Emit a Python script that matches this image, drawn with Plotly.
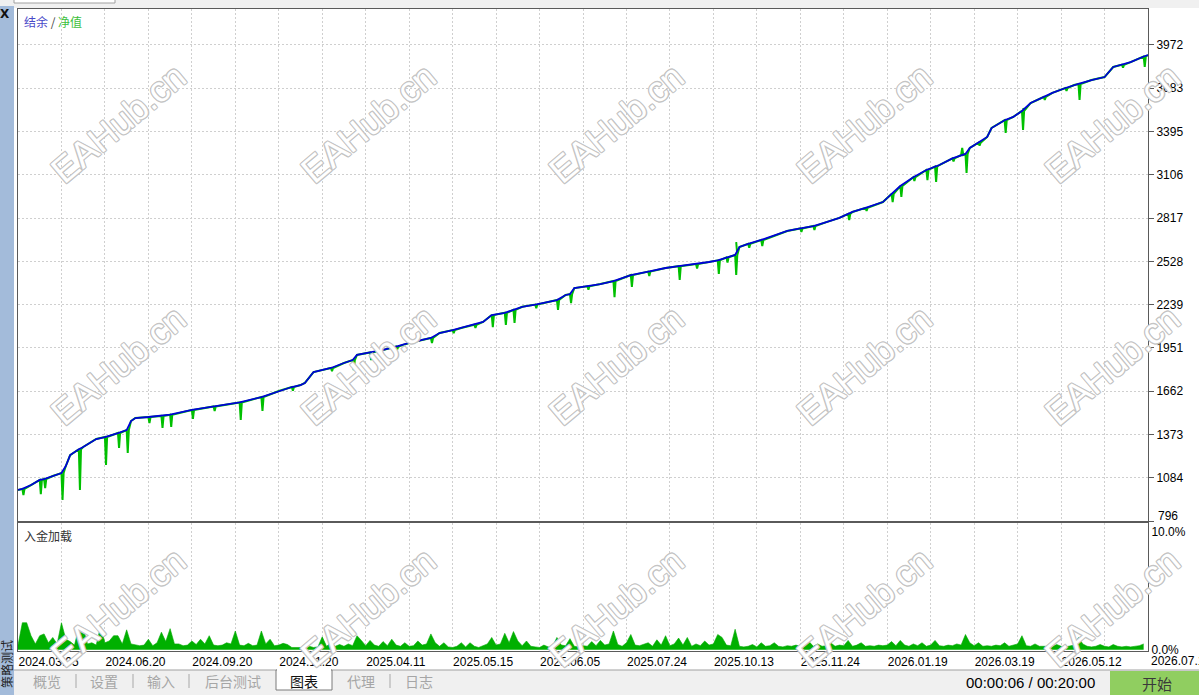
import plotly.graph_objects as go

# ---------------- data ----------------
dates = ["2024.03.05", "2024.06.20", "2024.09.20", "2024.11.20", "2025.04.11",
         "2025.05.15", "2025.06.05", "2025.07.24", "2025.10.13", "2025.11.24",
         "2026.01.19", "2026.03.19", "2026.05.12", "2026.07.1"]

y_ticks = [796, 1084, 1373, 1662, 1951, 2239, 2528, 2817, 3106, 3395, 3683, 3972]

# balance (trade index, value)
bal_idx = [0, 1, 3, 5, 6, 8, 10, 11, 12, 14, 15, 18, 20, 23, 25, 26, 27, 30, 33, 35,
           40, 45, 51, 56, 60, 63, 65, 66, 68, 72, 75, 77, 78, 81, 84, 87, 90, 95, 97, 100,
           102, 105, 107, 109, 112, 114, 116, 119, 122, 124, 126, 127, 128, 131, 134, 137, 141, 145, 149, 152,
           156, 159, 161, 163, 165, 166, 168, 171, 174, 177, 180, 183, 186, 189, 191, 192, 195, 199, 201, 203,
           206, 209, 211, 212, 215, 217, 218, 219, 221, 223, 224, 227, 229, 231, 233, 236, 238, 241, 243, 244,
           247, 250, 252, 254, 256, 259, 260]
bal_val = [1003, 1010, 1036, 1070, 1076, 1096, 1116, 1163, 1236, 1275, 1290, 1343, 1356, 1383, 1403, 1463, 1483, 1490, 1497, 1505,
           1537, 1560, 1587, 1623, 1663, 1690, 1703, 1717, 1790, 1817, 1850, 1870, 1904, 1920, 1937, 1960, 1984, 2017, 2050, 2070,
           2084, 2105, 2124, 2170, 2185, 2205, 2225, 2240, 2257, 2270, 2304, 2310, 2350, 2362, 2377, 2397, 2437, 2460, 2484, 2496,
           2510, 2524, 2535, 2555, 2571, 2624, 2645, 2671, 2700, 2731, 2748, 2764, 2790, 2818, 2845, 2858, 2885, 2924, 2978, 3031,
           3090, 3138, 3160, 3171, 3215, 3238, 3245, 3285, 3320, 3358, 3418, 3470, 3492, 3532, 3585, 3625, 3652, 3685, 3705, 3712,
           3738, 3758, 3825, 3840, 3858, 3895, 3905]

# equity excursions away from balance (trade index, equity value)
dip_idx = [1, 5, 6, 10, 14, 20, 23, 25, 30, 33, 35, 40, 45, 51, 56, 63, 72, 77, 81, 87,
           95, 100, 105, 109, 112, 114, 119, 124, 127, 131, 137, 141, 145, 152, 156, 161, 163, 165, 165, 168,
           171, 180, 183, 191, 195, 201, 203, 206, 209, 211, 215, 217, 218, 221, 227, 231, 231, 236, 241, 244,
           254, 259]
dip_val = [969, 975, 1016, 936, 1003, 1170, 1283, 1250, 1450, 1417, 1423, 1477, 1530, 1470, 1530, 1665, 1795, 1803, 1870, 1940,
           1984, 2050, 2085, 2090, 2104, 2117, 2215, 2204, 2250, 2340, 2290, 2357, 2430, 2404, 2480, 2444, 2520, 2437, 2657, 2620,
           2631, 2725, 2737, 2804, 2865, 2924, 2958, 3065, 3071, 3058, 3195, 3285, 3118, 3300, 3385, 3405, 3551, 3605, 3665, 3605,
           3820, 3825]

# deposit load, % (one value per trade index 0..259)
load_pct = [
    0.4, 2.3, 2.3, 1.2, 0.5, 1.2, 1.35, 0.6, 1.05, 0.5, 2.3, 0.9, 0.7, 0.4, 1.9, 1.85, 0.5, 0.6, 0.4, 2.0,
    0.6, 0.75, 1.2, 1.2, 0.5, 1.7, 0.5, 0.4, 0.35, 0.4, 0.9, 0.35, 0.6, 1.5, 0.7, 1.8, 0.5, 0.5, 0.35, 0.4,
    0.75, 0.45, 0.9, 0.5, 1.2, 0.4, 0.35, 0.4, 0.6, 0.5, 1.6, 0.4, 0.35, 0.55, 0.35, 0.4, 1.6, 0.5, 0.9, 0.35,
    0.4, 0.55, 0.45, 0.2, 0.2, 0.25, 0.2, 0.3, 0.2, 0.25, 1.1, 0.3, 0.6, 0.3, 0.45, 0.3, 0.5, 0.35, 1.2, 0.8,
    0.35, 0.8, 0.4, 0.3, 0.7, 0.35, 0.9, 0.4, 0.3, 0.6, 0.3, 0.35, 0.75, 0.4, 0.5, 1.35, 0.6, 0.3, 0.6, 0.25,
    0.2, 0.3, 0.6, 0.25, 0.6, 0.3, 0.2, 0.35, 0.5, 1.05, 0.4, 0.5, 1.4, 0.6, 1.55, 0.75, 0.35, 0.75, 0.3, 0.25,
    0.2, 0.4, 0.25, 0.3, 1.05, 0.4, 0.35, 0.95, 0.3, 0.25, 0.35, 0.3, 0.7, 0.35, 0.8, 0.4, 0.5, 1.6, 0.45, 0.3,
    0.6, 1.3, 0.4, 0.35, 0.5, 0.6, 0.3, 0.85, 0.4, 1.2, 0.35, 0.5, 1.0, 0.4, 1.05, 0.3, 0.5, 0.35, 0.75, 0.4,
    0.5, 1.3, 1.05, 0.4, 0.35, 1.75, 0.3, 0.25, 0.3, 0.45, 0.25, 0.6, 0.3, 0.35, 0.6, 0.3, 0.25, 0.35, 0.3, 0.4,
    0.3, 0.35, 0.7, 0.3, 0.5, 0.3, 0.35, 0.6, 0.3, 0.4, 0.35, 0.8, 0.3, 0.4, 0.6, 0.3, 0.35, 0.3, 0.4, 0.35,
    0.4, 0.7, 0.35, 0.8, 0.4, 0.3, 0.5, 0.35, 0.6, 0.3, 0.4, 0.8, 0.35, 0.3, 0.4, 0.35, 0.5, 0.4, 1.3, 0.6,
    0.35, 0.6, 0.3, 0.35, 0.3, 0.4, 0.35, 0.6, 0.3, 0.4, 0.5, 1.2, 0.35, 0.3, 0.5, 0.3, 0.3, 0.35, 0.3, 0.45,
    0.3, 0.25, 0.3, 0.4, 1.05, 0.5, 0.3, 0.25, 0.3, 0.45, 0.3, 0.25, 0.45, 0.3, 0.25, 0.3, 0.25, 0.3, 0.35, 0.5,
]
load_idx = list(range(len(load_pct)))

tabs = ["概览", "设置", "输入", "后台测试", "图表", "代理", "日志"]
tab_x = [47, 104, 161, 233, 304, 361, 419]
active_tab = "图表"

# ---------------- geometry helpers ----------------
W, H = 1199, 695
ML, MR, MT, MB = 18, 51, 9, 44
PW, PH = W - ML - MR, H - MT - MB


def px(x):
    return (x - ML) / PW


def py(y):
    return (H - MB - y) / PH


# equity path: follows balance with narrow excursions
eq_x, eq_y = [], []
for i, b in zip(bal_idx, bal_val):
    eq_x.append(i)
    eq_y.append(b)
    for di, dv in zip(dip_idx, dip_val):
        if di == i:
            eq_x += [i + 0.25, i + 0.5]
            eq_y += [dv, b]

GREEN = "#00c000"
BLUE = "#0000d8"
GRID = "#cfcfcf"
AXC = "#5a5a5a"
TICKFONT = dict(family="Liberation Sans, Arial, sans-serif", size=12, color="#000000")
CJK = "Noto Sans CJK SC"

fig = go.Figure()
fig.add_trace(go.Scatter(x=eq_x, y=eq_y, mode="lines", line=dict(color=GREEN, width=2.0),
                         xaxis="x", yaxis="y", hoverinfo="skip", showlegend=False))
fig.add_trace(go.Scatter(x=bal_idx, y=bal_val, mode="lines", line=dict(color=BLUE, width=1.8),
                         xaxis="x", yaxis="y", hoverinfo="skip", showlegend=False))
fig.add_trace(go.Scatter(x=load_idx, y=load_pct, mode="lines", fill="tozeroy",
                         line=dict(color="#00aa00", width=0.6), fillcolor="#00b000",
                         xaxis="x2", yaxis="y2", hoverinfo="skip", showlegend=False))

top_dom0 = py(521)
low_dom1 = py(523)

xt_vals = list(range(0, 261, 10))
xt_text = [dates[v // 20] if (v % 20 == 0 and v < 260) else "" for v in xt_vals]
yt_text = ["" if v == y_ticks[0] else str(v) for v in y_ticks]

fig.update_layout(
    template="none",
    width=W, height=H,
    margin=dict(l=ML, r=MR, t=MT, b=MB, pad=0),
    paper_bgcolor="#ffffff", plot_bgcolor="#ffffff",
    showlegend=False,
    xaxis=dict(domain=[0, 1], anchor="y", range=[0, 260], tickmode="array", tickvals=xt_vals,
               showticklabels=False, ticks="", showgrid=True, gridcolor=GRID, griddash="2px,2px",
               gridwidth=1, showline=True, linecolor=AXC, linewidth=1, mirror=True,
               zeroline=False, automargin=False, fixedrange=True),
    yaxis=dict(domain=[top_dom0, 1], anchor="x", side="right", range=[796, 4212],
               tickmode="array", tickvals=y_ticks, ticktext=yt_text,
               ticks="outside", ticklen=5, tickcolor=AXC, tickwidth=1, tickfont=TICKFONT,
               showgrid=True, gridcolor=GRID, griddash="2px,2px", gridwidth=1,
               showline=True, linecolor=AXC, linewidth=1, mirror=True,
               zeroline=False, automargin=False, fixedrange=True),
    xaxis2=dict(domain=[0, 1], anchor="y2", range=[0, 260], tickmode="array", tickvals=xt_vals,
                ticktext=xt_text, ticklabelposition="outside right", ticks="", tickfont=TICKFONT,
                showgrid=True, gridcolor=GRID, griddash="2px,2px", gridwidth=1,
                showline=True, linecolor=AXC, linewidth=1, mirror=True,
                zeroline=False, automargin=False, fixedrange=True),
    yaxis2=dict(domain=[0, low_dom1], anchor="x2", side="right", range=[-0.1, 10.77],
                tickmode="array", tickvals=[0, 10], ticktext=["0.0%", "10.0%"], ticks="",
                ticklen=5, tickfont=TICKFONT, showgrid=False,
                showline=True, linecolor=AXC, linewidth=1, mirror=True,
                zeroline=False, automargin=False, fixedrange=True),
)

shapes = []
# top strip
shapes.append(dict(type="rect", xref="paper", yref="paper", x0=px(0), x1=px(W), y0=py(8), y1=py(-2),
                   fillcolor="#f0f0f0", line=dict(width=0), layer="below"))
shapes.append(dict(type="rect", xref="paper", yref="paper", x0=px(14), x1=px(115), y0=py(3), y1=py(-2),
                   fillcolor="#ffffff", line=dict(color="#a0a0a0", width=1), layer="below"))
# left strip
shapes.append(dict(type="rect", xref="paper", yref="paper", x0=px(-1), x1=px(14), y0=py(H + 2), y1=py(6),
                   fillcolor="#a3bbda", line=dict(width=0), layer="above"))
# tab bar
shapes.append(dict(type="rect", xref="paper", yref="paper", x0=px(14), x1=px(W + 2), y0=py(H + 2), y1=py(670),
                   fillcolor="#f0f0f0", line=dict(width=0), layer="above"))
shapes.append(dict(type="line", xref="paper", yref="paper", x0=px(14), x1=px(W + 2), y0=py(670), y1=py(670),
                   line=dict(color="#a0a0a0", width=1), layer="above"))
# active tab
shapes.append(dict(type="rect", xref="paper", yref="paper", x0=px(276), x1=px(332), y0=py(690), y1=py(670),
                   fillcolor="#ffffff", line=dict(color="#7a7a7a", width=1), layer="above"))
shapes.append(dict(type="line", xref="paper", yref="paper", x0=px(277), x1=px(331), y0=py(670), y1=py(670),
                   line=dict(color="#ffffff", width=2), layer="above"))
# tab separators
for sx in [76, 133, 189, 390]:
    shapes.append(dict(type="line", xref="paper", yref="paper", x0=px(sx), x1=px(sx), y0=py(688), y1=py(674),
                       line=dict(color="#a8a8a8", width=1), layer="above"))
# start button
shapes.append(dict(type="rect", xref="paper", yref="paper", x0=px(1110), x1=px(W + 2), y0=py(H + 2), y1=py(671),
                   fillcolor="#90ce60", line=dict(width=0), layer="above"))
fig.update_layout(shapes=shapes)

ann = []
# series caption
ann.append(dict(xref="paper", yref="paper", x=px(22), y=py(21), xanchor="left", yanchor="middle",
                text='<span style="color:#4848c8">结余</span><span style="color:#444444"> / </span>'
                     '<span style="color:#3cc03c">净值</span>',
                showarrow=False, font=dict(family=CJK, size=12)))
ann.append(dict(xref="paper", yref="paper", x=px(22), y=py(535), xanchor="left", yanchor="middle",
                text="入金加载", showarrow=False, font=dict(family=CJK, size=12, color="#333333")))
# watermarks
wm_font = dict(family="Liberation Sans, Arial, sans-serif", size=36, color="#ffffff",
               shadow="1px 0 0 #c4c4c4, -1px 0 0 #c4c4c4, 0 1px 0 #c4c4c4, 0 -1px 0 #c4c4c4, "
                      "1px 1px 0 #c4c4c4, -1px -1px 0 #c4c4c4, 1px -1px 0 #c4c4c4, -1px 1px 0 #c4c4c4")
for wy in [123, 365, 607]:
    for wx in [118, 368, 616, 864, 1112]:
        ann.append(dict(xref="paper", yref="paper", x=px(wx), y=py(wy), xanchor="center", yanchor="middle",
                        text="EAHub.cn", textangle=-40, showarrow=False, font=wm_font))
# lowest balance-axis label, sitting on the panel divider
ann.append(dict(xref="paper", yref="paper", x=px(1156), y=py(525), xanchor="left", yanchor="bottom",
                text=str(y_ticks[0]), showarrow=False, font=TICKFONT))
# last date label, running off the window edge as in the original
ann.append(dict(xref="x2", yref="paper", x=260, y=py(651), xanchor="left", yanchor="top", xshift=1, yshift=-1,
                text=dates[-1], showarrow=False, font=TICKFONT))
# tabs
for t, tx in zip(tabs, tab_x):
    ann.append(dict(xref="paper", yref="paper", x=px(tx), y=py(681), xanchor="center", yanchor="middle",
                    text=t, showarrow=False,
                    font=dict(family=CJK, size=14, color="#111111" if t == active_tab else "#a6a6a6")))
ann.append(dict(xref="paper", yref="paper", x=px(1030), y=py(682), xanchor="center", yanchor="middle",
                text="00:00:06 / 00:20:00", showarrow=False,
                font=dict(family="Liberation Sans, Arial, sans-serif", size=15, color="#000000")))
ann.append(dict(xref="paper", yref="paper", x=px(1157), y=py(683), xanchor="center", yanchor="middle",
                text="开始", showarrow=False, font=dict(family=CJK, size=15, color="#3a3a3a")))
# left strip texts
ann.append(dict(xref="paper", yref="paper", x=px(5), y=py(14), xanchor="center", yanchor="middle",
                text="<b>X</b>", showarrow=False,
                font=dict(family="DejaVu Sans, sans-serif", size=12, color="#111111")))
ann.append(dict(xref="paper", yref="paper", x=px(6), y=py(664), xanchor="center", yanchor="middle",
                text="策略测试", textangle=-90, showarrow=False,
                font=dict(family=CJK, size=12, color="#222222")))
fig.update_layout(annotations=ann)

fig.write_html("out.html", config={"displayModeBar": False, "staticPlot": True},
               post_script="document.body.style.margin='0px';document.body.style.overflow='hidden';")
